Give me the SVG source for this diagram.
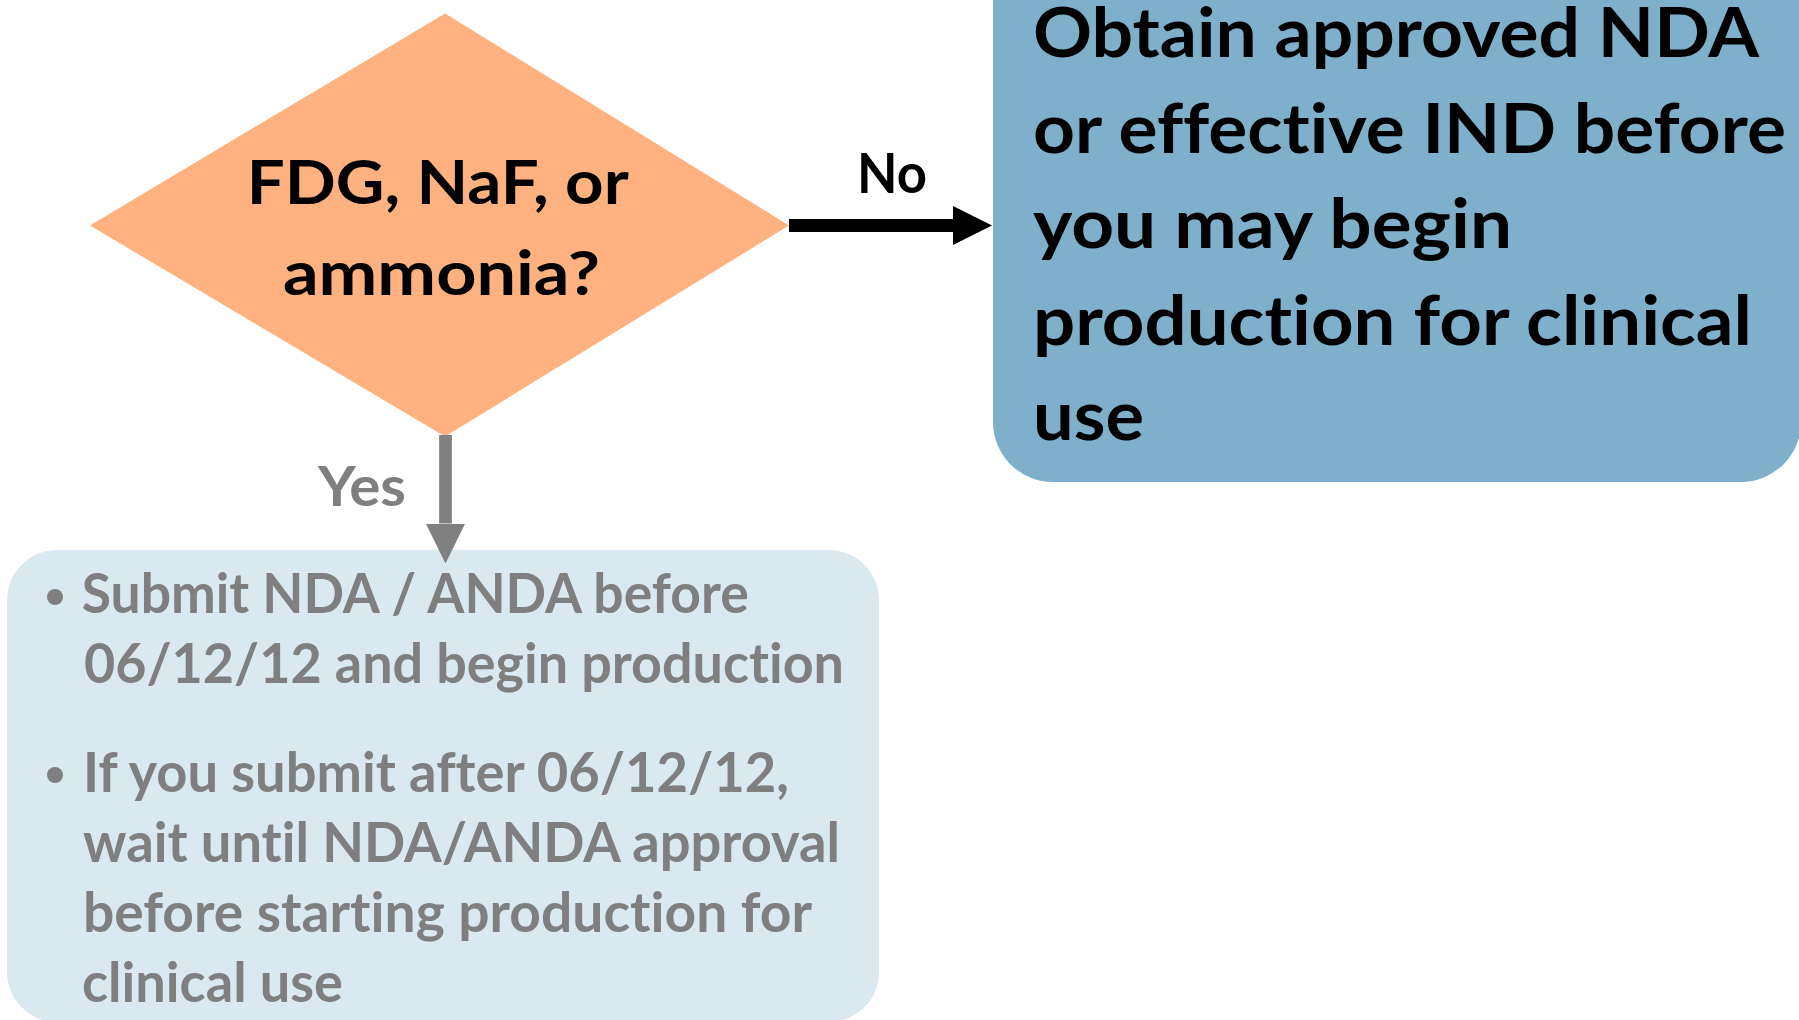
<svg xmlns="http://www.w3.org/2000/svg" width="1799" height="1020" viewBox="0 0 1799 1020">
<style>
text{font-family:Lato,"Open Sans","Noto Sans",sans-serif;font-weight:bold;font-variant-ligatures:none;font-feature-settings:"liga" 0,"clig" 0}
.dk{fill:#000000}
.gy{fill:#7f7f7f}
.big{font-size:69px}
.dia{font-size:62px}
.lbl{font-size:55px}
.bul{font-size:55px}
</style>
<defs>
<marker id="ahBlack" markerUnits="userSpaceOnUse" markerWidth="40" markerHeight="40" refX="0" refY="19.5" orient="auto"><path d="M0,0 L39,19.5 L0,39 Z" fill="#000000"/></marker>
<marker id="ahGray" markerUnits="userSpaceOnUse" markerWidth="41" markerHeight="41" refX="0" refY="19.7" orient="auto"><path d="M0,0 L40,19.7 L0,39.4 Z" fill="#808080"/></marker>
</defs>
<rect width="1799" height="1020" fill="#ffffff"/>
<g id="node-decision">
<polygon points="90,225.5 445,13.5 789,225.5 445,436.5" fill="#ffb280"/>
<text class="dk dia" x="246.7" y="204.3" textLength="382" lengthAdjust="spacingAndGlyphs">FDG, NaF, or</text>
<text class="dk dia" x="283" y="295" textLength="317" lengthAdjust="spacingAndGlyphs">ammonia?</text>
</g>
<g id="node-obtain">
<rect x="993" y="-80" width="808" height="562" rx="60" ry="60" fill="#7fb0cb"/>
<text class="dk big" x="1033" y="57" textLength="726" lengthAdjust="spacingAndGlyphs">Obtain approved NDA</text>
<text class="dk big" x="1033" y="152.7" textLength="753" lengthAdjust="spacingAndGlyphs">or effective IND before</text>
<text class="dk big" x="1033" y="248" textLength="479" lengthAdjust="spacingAndGlyphs">you may begin</text>
<text class="dk big" x="1033" y="345" textLength="719" lengthAdjust="spacingAndGlyphs">production for clinical</text>
<text class="dk big" x="1033" y="440" textLength="111" lengthAdjust="spacingAndGlyphs">use</text>
</g>
<g id="node-submit">
<rect x="7" y="550" width="872" height="472" rx="50" ry="50" fill="#dae8ef"/>
<circle cx="55" cy="597" r="8" fill="#7f7f7f"/>
<text class="gy bul" x="81.7" y="613" textLength="667" lengthAdjust="spacingAndGlyphs">Submit NDA / ANDA before</text>
<text class="gy bul" x="84" y="683.3" textLength="760" lengthAdjust="spacingAndGlyphs">06/12/12 and begin production</text>
<circle cx="55" cy="775" r="8" fill="#7f7f7f"/>
<text class="gy bul" x="83" y="791.7" textLength="706" lengthAdjust="spacingAndGlyphs">If you submit after 06/12/12,</text>
<text class="gy bul" x="83" y="861.7" textLength="757" lengthAdjust="spacingAndGlyphs">wait until NDA/ANDA approval</text>
<text class="gy bul" x="83" y="931.7" textLength="729" lengthAdjust="spacingAndGlyphs">before starting production for</text>
<text class="gy bul" x="82" y="1001.7" textLength="261" lengthAdjust="spacingAndGlyphs">clinical use</text>
</g>
<g id="connectors">
<line x1="789" y1="225.5" x2="953" y2="225.5" stroke="#000000" stroke-width="13" marker-end="url(#ahBlack)"/>
<text class="dk lbl" x="857" y="193" textLength="70" lengthAdjust="spacingAndGlyphs">No</text>
<line x1="445.5" y1="435" x2="445.5" y2="523.5" stroke="#808080" stroke-width="12.7" marker-end="url(#ahGray)"/>
<text class="gy lbl" x="318" y="506" textLength="88" lengthAdjust="spacingAndGlyphs">Yes</text>
</g>
</svg>
